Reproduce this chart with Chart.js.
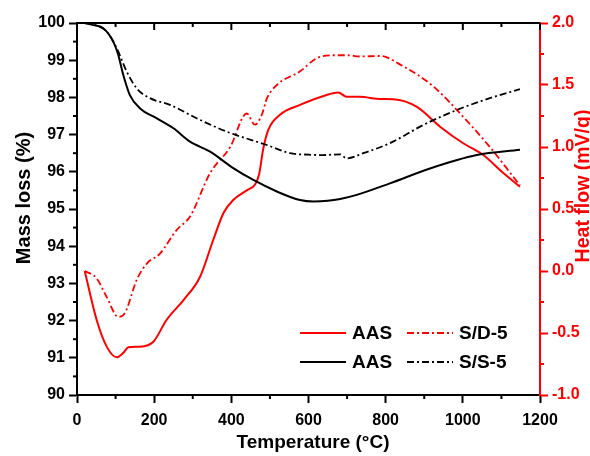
<!DOCTYPE html>
<html><head><meta charset="utf-8">
<script src="https://cdn.jsdelivr.net/npm/chart.js@4.4.0/dist/chart.umd.min.js"></script>
<style>html,body{margin:0;padding:0;background:#fff}</style>
</head><body>
<canvas id="c" width="590" height="456"></canvas>
<script>
// ---- data ----
const tempMassAAS = [20, 40, 68, 94, 107, 120, 137, 163, 206, 250, 293, 345, 405, 457, 518, 578, 613, 650, 682, 725, 811, 915, 1036, 1148];
const massAAS     = [100, 99.95, 99.86, 99.5, 99.14, 98.6, 98.06, 97.71, 97.44, 97.17, 96.81, 96.54, 96.1, 95.78, 95.47, 95.24, 95.2, 95.22, 95.27, 95.38, 95.69, 96.09, 96.45, 96.59];

const tempMassSS  = [20, 50, 77, 103, 129, 155, 189, 241, 310, 388, 492, 552, 600, 638, 682, 699, 742, 811, 898, 984, 1070, 1148];
const massSS      = [100, 99.93, 99.77, 99.32, 98.69, 98.24, 97.98, 97.8, 97.44, 97.08, 96.72, 96.5, 96.46, 96.45, 96.47, 96.36, 96.5, 96.77, 97.26, 97.66, 97.98, 98.22];

const tempHeatAAS = [20, 51, 77, 103, 120, 133, 163, 198, 232, 276, 319, 353, 380, 405, 440, 462, 472, 483, 496, 526, 578, 647, 677, 699, 733, 785, 820, 880, 941, 1001, 1053, 1105, 1148];
const heatAAS     = [0.0, -0.395, -0.61, -0.696, -0.66, -0.615, -0.61, -0.57, -0.395, -0.234, -0.046, 0.25, 0.47, 0.573, 0.65, 0.70, 0.78, 0.99, 1.14, 1.26, 1.34, 1.42, 1.44, 1.405, 1.405, 1.387, 1.385, 1.325, 1.164, 1.03, 0.935, 0.79, 0.68];

const tempHeatSD  = [20, 51, 77, 107, 124, 155, 181, 215, 258, 293, 345, 397, 440, 461, 479, 492, 518, 578, 621, 664, 700, 733, 785, 846, 923, 984, 1070, 1148];
const heatSD      = [0.0, -0.06, -0.21, -0.37, -0.34, -0.07, 0.06, 0.14, 0.33, 0.44, 0.79, 1.0, 1.27, 1.18, 1.26, 1.39, 1.5, 1.61, 1.715, 1.74, 1.74, 1.73, 1.734, 1.65, 1.49, 1.30, 1.0, 0.69];

const xTickLabels = ['0', '200', '400', '600', '800', '1000', '1200'];
const legendRows = [["AAS", "S/D-5"], ["AAS", "S/S-5"]];

const FONT = "'Liberation Sans', Arial, Helvetica, sans-serif";
const RED = '#ff0000', BLACK = '#000000';
const DASHDOT = [7, 3, 2, 3];

const pts = (xs, ys) => xs.map((x, i) => ({x, y: ys[i]}));

const datasets = [
  {label: 'AAS', data: pts(tempMassAAS, massAAS), yAxisID: 'y', borderColor: BLACK, borderWidth: 2, borderDash: []},
  {label: 'S/S-5', data: pts(tempMassSS, massSS), yAxisID: 'y', borderColor: BLACK, borderWidth: 1.8, borderDash: DASHDOT},
  {label: 'AAS', data: pts(tempHeatAAS, heatAAS), yAxisID: 'y2', borderColor: RED, borderWidth: 2, borderDash: []},
  {label: 'S/D-5', data: pts(tempHeatSD, heatSD), yAxisID: 'y2', borderColor: RED, borderWidth: 1.8, borderDash: DASHDOT}
].map(d => Object.assign(d, {pointRadius: 0, fill: false, cubicInterpolationMode: 'monotone', backgroundColor: d.borderColor}));

const decor = {
  id: 'decor',
  afterDraw(chart) {
    const ctx = chart.ctx, a = chart.chartArea;
    const sx = chart.scales.x, sy = chart.scales.y, s2 = chart.scales.y2;
    ctx.save();
    // top frame line and inward ticks
    ctx.strokeStyle = BLACK; ctx.lineWidth = 2;
    ctx.beginPath(); ctx.moveTo(a.left - 1, a.top); ctx.lineTo(a.right, a.top); ctx.stroke();
    for (let v = 0; v <= 1200; v += 100) {
      const px = sx.getPixelForValue(v);
      const major = v % 200 === 0;
      ctx.beginPath(); ctx.moveTo(px, a.top); ctx.lineTo(px, a.top + (major ? 7 : 4)); ctx.stroke();
      if (!major) { ctx.beginPath(); ctx.moveTo(px, a.bottom); ctx.lineTo(px, a.bottom + 4); ctx.stroke(); }
    }
    for (let v = 90.5; v < 100; v += 1) {
      const py = sy.getPixelForValue(v);
      ctx.beginPath(); ctx.moveTo(a.left, py); ctx.lineTo(a.left - 4, py); ctx.stroke();
    }
    ctx.strokeStyle = RED;
    for (let v = -0.75; v < 2; v += 0.5) {
      const py = s2.getPixelForValue(v);
      ctx.beginPath(); ctx.moveTo(a.right, py); ctx.lineTo(a.right + 4, py); ctx.stroke();
    }
    // axis titles
    ctx.fillStyle = BLACK;
    ctx.textAlign = 'center'; ctx.textBaseline = 'alphabetic';
    ctx.font = 'bold 19px ' + FONT;
    ctx.fillText('Temperature (°C)', 313, 448);
    ctx.save(); ctx.translate(30, 198); ctx.rotate(-Math.PI / 2);
    ctx.font = 'bold 20px ' + FONT; ctx.fillText('Mass loss (%)', 0, 0); ctx.restore();
    ctx.save(); ctx.translate(589, 186); ctx.rotate(-Math.PI / 2);
    ctx.fillStyle = RED; ctx.font = 'bold 19.5px ' + FONT; ctx.fillText('Heat flow (mV/g)', 0, 0); ctx.restore();
    // legend
    const rowDs = [[2, 3], [0, 1]];
    const rowY = [333, 362];
    const colX = [300, 407];
    ctx.font = 'bold 19px ' + FONT; ctx.textAlign = 'left'; ctx.textBaseline = 'middle';
    rowDs.forEach((r, ri) => {
      r.forEach((di, ci) => {
        const d = chart.data.datasets[di];
        ctx.strokeStyle = d.borderColor; ctx.lineWidth = d.borderWidth;
        ctx.setLineDash(d.borderDash || []);
        ctx.beginPath(); ctx.moveTo(colX[ci], rowY[ri]); ctx.lineTo(colX[ci] + 46, rowY[ri]); ctx.stroke();
        ctx.setLineDash([]);
        ctx.fillStyle = BLACK;
        ctx.fillText(legendRows[ri][ci], colX[ci] + 52, rowY[ri] + 1);
      });
    });
    ctx.restore();
  }
};

new Chart(document.getElementById('c'), {
  type: 'line',
  data: {datasets},
  options: {
    responsive: false, animation: false,
    layout: {padding: {top: 23, left: 0, right: 0, bottom: 0}},
    plugins: {legend: {display: false}, tooltip: {enabled: false}},
    scales: {
      x: {
        type: 'linear', position: 'bottom', min: 0, max: 1200,
        afterFit: s => { s.height = 61; },
        ticks: {stepSize: 200, color: BLACK, font: {family: FONT, size: 16, weight: 'bold'}, padding: 8, maxRotation: 0,
                callback: (v, i) => xTickLabels[i]},
        grid: {drawOnChartArea: false, tickLength: 8, tickWidth: 2, tickColor: BLACK},
        border: {color: BLACK, width: 2}
      },
      y: {
        type: 'linear', position: 'left', min: 90, max: 100,
        afterFit: s => { s.width = 77; },
        ticks: {stepSize: 1, color: BLACK, font: {family: FONT, size: 16, weight: 'bold'}, padding: 4},
        grid: {drawOnChartArea: false, tickLength: 8, tickWidth: 2, tickColor: BLACK},
        border: {color: BLACK, width: 2}
      },
      y2: {
        type: 'linear', position: 'right', min: -1, max: 2,
        afterFit: s => { s.width = 50; },
        ticks: {stepSize: 0.5, color: RED, font: {family: FONT, size: 16, weight: 'bold'}, padding: 4,
                callback: v => Number(v).toFixed(1)},
        grid: {drawOnChartArea: false, tickLength: 8, tickWidth: 2, tickColor: RED},
        border: {color: RED, width: 2}
      }
    }
  },
  plugins: [decor]
});
</script>
</body></html>
